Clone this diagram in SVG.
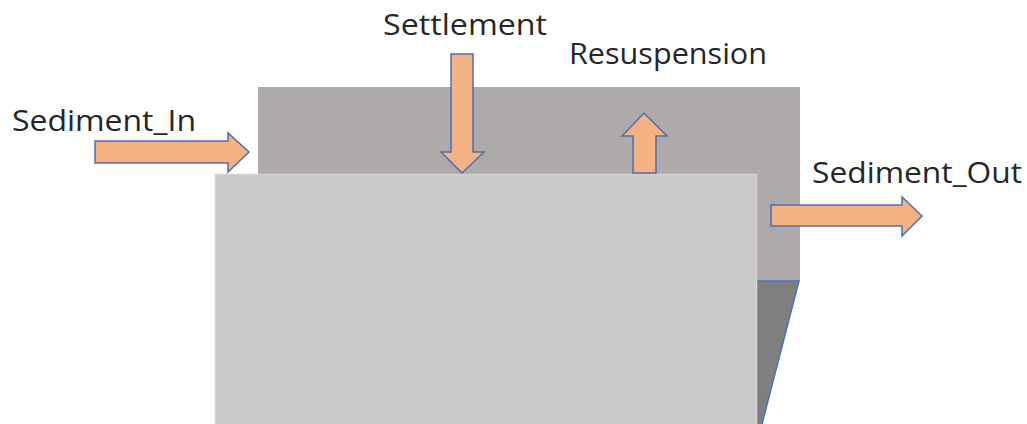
<svg xmlns="http://www.w3.org/2000/svg" width="1027" height="424" viewBox="0 0 1027 424">
<style>
.lbl{font-family:"Open Sans","Liberation Sans",sans-serif;font-size:29px;fill:#262626}
.arr{fill:#F4B183;stroke:#4F6FAA;stroke-width:1.5;stroke-linejoin:miter}
</style>
<rect width="1027" height="424" fill="#FFFFFF"/>
<g id="tank">
<rect id="back" x="258" y="87" width="542" height="194" fill="#AEAAAA"/>
<polygon id="base" points="740,281 799,281 762,424 740,424" fill="#7F7F7F"/>
<path d="M757,281 L799,281 L762,424" fill="none" stroke="#4472C4" stroke-width="1.5"/>
<rect id="front" x="215.5" y="174.5" width="541" height="251" fill="#C9C9C9" stroke="#D4D4D4" stroke-width="1.5"/>
</g>
<g id="connectors">
<polygon id="in-arrow" class="arr" points="95,141 228,141 228,133 249,152 228,172 228,163 95,163"/>
<polygon id="settle-arrow" class="arr" points="451,54 473,54 473,152 484,152 462,173 441,152 451,152"/>
<polygon id="resusp-arrow" class="arr" points="633,173 633,136 622,136 644,113 667,136 656,136 656,173"/>
<polygon id="out-arrow" class="arr" points="771,205 902,205 902,197 922,216 902,236 902,226 771,226"/>
</g>
<g id="labels">
<text class="lbl" x="12" y="131" textLength="184" lengthAdjust="spacingAndGlyphs">Sediment_In</text>
<text class="lbl" x="383" y="35" textLength="164" lengthAdjust="spacingAndGlyphs">Settlement</text>
<text class="lbl" x="569" y="64" textLength="198" lengthAdjust="spacingAndGlyphs">Resuspension</text>
<text class="lbl" x="812" y="183" textLength="210" lengthAdjust="spacingAndGlyphs">Sediment_Out</text>
</g>
</svg>
